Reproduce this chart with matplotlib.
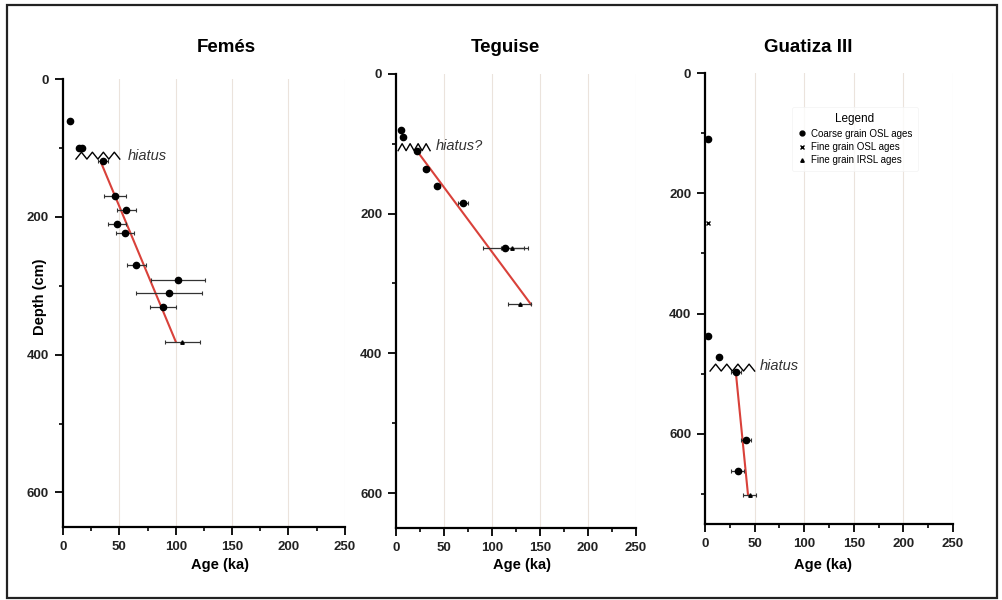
import numpy as np
import matplotlib
matplotlib.use("Agg")
import matplotlib.pyplot as plt
from matplotlib.patches import Rectangle
from matplotlib.lines import Line2D

plt.rcParams['font.family'] = ['Liberation Sans', 'DejaVu Sans']

# Femés
fem_age = [6.5, 14, 17, 35.5, 46, 56, 47.5, 55, 65, 102, 94, 89, 106]
fem_depth = [60, 100, 100, 119, 170, 190, 210, 224, 270, 291, 311, 331, 381]
fem_err = [0, 0, 0, 4.5, 10, 8.5, 8, 8, 8.5, 24, 29.5, 11.5, 15.5]
fem_kind = ["c", "c", "c", "c", "c", "c", "c", "c", "c", "c", "c", "c", "i"]
fem_fit_age = [34, 100]
fem_fit_depth = [122, 381]

# Teguise
teg_age = [4.9, 7, 22, 31, 43, 69.5, 114, 121, 129]
teg_depth = [80, 91, 110, 136, 160, 185, 250, 250, 330]
teg_err = [0, 0, 2, 3, 3, 5, 23, 12, 12]
teg_kind = ["c", "c", "c", "c", "c", "c", "c", "i", "i"]
teg_fit_age = [22, 140.6]
teg_fit_depth = [111, 330]

# Guatiza III
gua_age = [3, 3, 3, 14, 31, 41, 32.7, 45]
gua_depth = [110, 249, 437, 472, 497, 610, 662, 702]
gua_err = [0, 0, 0, 0, 5, 5, 7, 6.5]
gua_kind = ["c", "f", "c", "c", "c", "c", "c", "i"]
gua_fit_age = [31, 43.3]
gua_fit_depth = [498, 702]

# hiatus marks: (age start, age end, depth, label age, label depth, text)
fem_hiatus = (11.5, 50.4, 111, 57.5, 112, "hiatus")
teg_hiatus = (2, 35.4, 105, 41.7, 104, "hiatus?")
gua_hiatus = (5, 50, 490, 55, 487, "hiatus")

sites = [
    ("Femés", fem_age, fem_depth, fem_err, fem_kind, fem_fit_age, fem_fit_depth, fem_hiatus, 650,
     [0.0628, 0.122, 0.281, 0.746], 226, 220),
    ("Teguise", teg_age, teg_depth, teg_err, teg_kind, teg_fit_age, teg_fit_depth, teg_hiatus, 650,
     [0.395, 0.120, 0.239, 0.757], 505, 522),
    ("Guatiza III", gua_age, gua_depth, gua_err, gua_kind, gua_fit_age, gua_fit_depth, gua_hiatus, 750,
     [0.703, 0.127, 0.247, 0.751], 808, 823),
]

marker_style = {"c": dict(marker="o", ms=4.5),
                "f": dict(marker="x", ms=3),
                "i": dict(marker="^", ms=2.5)}

W, H = 1003, 600
fig = plt.figure(figsize=(W / 100, H / 100), dpi=100)
fig.patch.set_facecolor("white")

for (name, age, depth, err, kind, fit_a, fit_d, hiatus, ybot,
     pos, title_px, xlab_px) in sites:
    ax = fig.add_axes(pos)
    ax.set_xlim(0, 250)
    ax.set_ylim(ybot, 0)
    ax.set_xticks(range(0, 251, 50))
    ax.set_xticks(range(25, 250, 50), minor=True)
    ax.set_yticks(range(0, ybot, 200))
    ax.set_yticks(range(100, ybot, 200), minor=True)
    for x in range(50, 251, 50):
        ax.axvline(x, color="#ebe3dc", lw=0.8, zorder=0)
    for s in ["top", "right"]:
        ax.spines[s].set_visible(False)
    for s in ["left", "bottom"]:
        ax.spines[s].set_linewidth(1.6)
    ax.tick_params(which="major", length=6, width=1.3, labelsize=9.5, pad=4)
    ax.tick_params(which="minor", length=3, width=1.2)
    for lab in ax.get_xticklabels() + ax.get_yticklabels():
        lab.set_fontweight("bold")
        lab.set_color("#222222")

    ax.plot(fit_a, fit_d, color="#d9413a", lw=1.5, zorder=2)

    for a, d, e, k in zip(age, depth, err, kind):
        if e > 0:
            ax.errorbar(a, d, xerr=e, fmt="none", ecolor="#333333", elinewidth=0.9,
                        capsize=1.5, capthick=0.8, zorder=3)
        ax.plot(a, d, color="black", ls="none", zorder=4, **marker_style[k])

    a0, a1, hd, ta, td, txt = hiatus
    zx = np.linspace(a0, a1, 9)
    zy = hd + np.array([1, -1] * 5)[:9] * (ybot / 650) * 5
    ax.plot(zx, zy, color="black", lw=1.0, zorder=5)
    ax.text(ta, td, txt, style="italic", fontsize=10.5, color="#333333",
            va="center", ha="left")

    fig.text(title_px / W, 1 - 47 / H, name, ha="center", va="center",
             fontsize=13.5, fontweight="bold")
    fig.text(xlab_px / W, 1 - 565 / H, "Age (ka)", ha="center", va="center",
             fontsize=10.5, fontweight="bold")

    if name == "Guatiza III":
        handles = [Line2D([], [], color="black", ls="none", marker="o", ms=3.5),
                   Line2D([], [], color="black", ls="none", marker="x", ms=3),
                   Line2D([], [], color="black", ls="none", marker="^", ms=2.5)]
        leg = ax.legend(handles, ["Coarse grain OSL ages", "Fine grain OSL ages",
                                  "Fine grain IRSL ages"],
                        title="Legend", loc="upper center",
                        bbox_to_anchor=(0.605, 0.935), fontsize=7,
                        title_fontsize=8.5, frameon=True, handlelength=0.8,
                        handletextpad=0.5, borderpad=0.6, labelspacing=0.35)
        leg.get_frame().set_edgecolor("#f2f2f2")
        leg.get_frame().set_linewidth(0.6)

fig.text(40 / W, 1 - 297 / H, "Depth (cm)", rotation=90, ha="center", va="center",
         fontsize=10.5, fontweight="bold")

fig.patches.append(Rectangle((7 / W, 2 / H), 990 / W, 593 / H, transform=fig.transFigure,
                             fill=False, edgecolor="#222222", lw=1.6))

fig.savefig("out.png", dpi=100)
